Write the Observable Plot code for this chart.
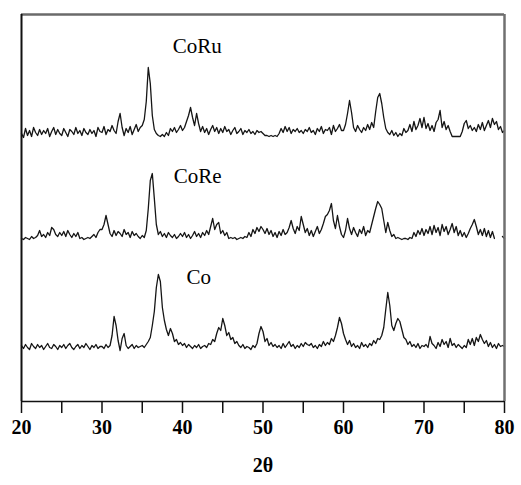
<!DOCTYPE html>
<html>
<head>
<meta charset="utf-8">
<script src="https://cdn.jsdelivr.net/npm/d3@7"></script>
<script src="https://cdn.jsdelivr.net/npm/@observablehq/plot@0.6"></script>
<style>
  html, body { margin: 0; padding: 0; background: #fff; }
</style>
</head>
<body>
<div id="chart"></div>
<script>
// 2θ sampling of the patterns
const twoThetaStart = 20;
const twoThetaStep = 0.25;

// Series names and vertical offsets (stacked patterns, a.u.)
const seriesNames = ["Co", "CoRe", "CoRu"];
const seriesOffsets = [54, 163, 268];

// Intensities (a.u., above each pattern's baseline), 20° → 80° every 0.25°
const coValues = [
  2,-1,3,0,-2,4,1,-1,3,0,2,-2,1,4,0,-1,3,1,-2,2,
  0,3,-1,2,4,0,-2,1,3,-1,2,0,4,1,-2,2,0,3,-1,1,
  1,-1,3,0,2,12,31,22,7,-3,9,14,2,-1,1,3,-1,2,0,1,
  2,0,3,6,10,22,36,60,73,66,40,27,18,12,19,14,6,8,3,5,
  2,4,0,3,1,-1,2,0,3,-1,1,2,0,4,3,8,6,14,20,17,
  29,22,12,15,8,10,4,6,2,0,3,-1,1,0,-2,2,0,4,14,21,
  16,6,9,2,5,1,3,0,2,-1,4,0,3,6,1,3,-1,2,0,4,
  1,5,3,2,4,0,2,-1,3,1,6,2,5,3,9,6,12,20,30,24,
  14,8,3,7,1,4,0,2,-1,5,1,3,0,4,2,7,4,9,8,12,
  20,38,55,42,22,17,24,29,26,18,10,8,3,6,1,3,0,4,-1,2,
  1,3,0,11,4,2,-1,5,1,8,3,6,0,9,2,4,0,3,1,-1,
  2,0,8,3,9,2,10,6,13,8,4,7,1,5,0,3,-1,4,1,2,
  1
];
const coReValues = [
  0,-1,1,0,-1,2,0,1,3,8,2,4,1,6,3,11,9,4,2,6,
  3,7,2,8,4,1,5,2,6,0,1,-1,0,1,0,2,4,1,6,9,
  9,14,23,14,5,2,8,3,7,5,2,9,4,6,1,7,3,5,2,0,
  3,1,8,30,58,65,40,14,4,7,2,5,1,6,3,1,4,0,2,5,
  2,6,1,4,0,3,7,2,5,1,6,3,8,4,12,20,9,14,16,5,
  8,3,6,0,1,0,1,-1,0,1,0,2,1,6,2,9,5,11,7,12,
  9,5,10,4,8,2,6,1,7,3,9,4,6,11,18,10,5,12,8,22,
  14,6,10,3,8,2,7,12,5,9,15,22,24,28,35,18,10,23,12,4,
  1,8,20,10,4,11,6,2,9,5,12,3,8,6,14,22,30,37,34,30,
  18,6,16,8,2,4,0,1,0,-1,0,0,-1,1,0,6,2,8,4,10,
  3,9,5,12,4,13,6,11,3,14,7,12,4,9,15,6,12,3,8,2,
  6,1,5,10,14,19,12,4,9,3,10,2,8,1,7,0,null,null,null,2,
  0
];
const coRuValues = [
  0,-4,5,-2,3,-3,6,1,-2,4,-1,3,0,5,-3,2,6,-1,4,0,
  -2,5,1,-3,4,2,-1,6,0,3,-2,5,1,-1,4,0,3,-3,6,2,
  1,7,-1,4,2,8,3,0,12,20,6,-2,5,1,7,-1,4,9,2,6,
  8,14,32,66,50,18,4,0,-2,-3,-1,-3,1,-2,5,2,6,1,4,8,
  3,6,12,18,26,16,8,20,10,2,7,1,5,-1,4,8,2,6,0,5,
  1,7,2,4,-1,3,6,0,2,5,-1,3,1,4,0,2,-1,3,1,2,
  0,-2,-2,-3,-2,-3,-2,-3,0,5,1,7,2,6,0,4,2,5,1,3,
  0,4,2,6,1,3,-1,5,2,7,0,4,3,6,-1,8,2,5,9,3,
  3,9,20,33,21,6,2,8,4,1,6,3,9,4,11,6,22,36,40,30,
  16,5,1,-1,3,-2,1,-3,0,-2,5,1,3,9,2,12,4,8,15,6,
  16,5,10,3,8,2,11,14,23,6,12,4,8,2,-3,-3,-3,-3,-3,2,
  10,13,5,8,3,6,2,9,4,11,3,8,13,6,15,9,12,4,7,1,
  3
];

// Axis ticks
const xTicks = [20,25,30,35,40,45,50,55,60,65,70,75,80];
const xTickLabels = ["20","","30","","40","","50","","60","","70","","80"];

// Pattern labels
const labelNames = ["CoRu", "CoRe", "Co"];
const labelX = [38.8, 38.9, 40.5];
const labelY = [349, 219, 118];

const allValues = [coValues, coReValues, coRuValues];
const data = [];
allValues.forEach((vals, s) => {
  vals.forEach((v, i) => {
    data.push({
      series: seriesNames[s],
      x: twoThetaStart + i * twoThetaStep,
      y: v == null ? NaN : seriesOffsets[s] + v
    });
  });
});
const labels = labelNames.map((t, i) => ({t, x: labelX[i], y: labelY[i]}));

const serif = "'Liberation Serif', 'Times New Roman', Times, serif";

const chart = Plot.plot({
  width: 521,
  height: 485,
  marginTop: 14,
  marginBottom: 84,
  marginLeft: 21,
  marginRight: 17,
  style: `font-family: ${serif}; background: #fff; color: #000;`,
  x: {domain: [20, 80]},
  y: {domain: [0, 387], axis: null},
  marks: [
    Plot.line(data, {x: "x", y: "y", z: "series", stroke: "#151515", strokeWidth: 1.3}),
    Plot.text(labels, {x: "x", y: "y", text: "t", textAnchor: "start", lineAnchor: "bottom", fontSize: 21, fontFamily: serif, fill: "#000"}),
    Plot.ruleY([387], {stroke: "#6a6a6a", strokeWidth: 2.5}),
    Plot.ruleX([80], {stroke: "#707070", strokeWidth: 2.5}),
    Plot.ruleX([20], {stroke: "#111", strokeWidth: 2}),
    Plot.ruleY([0], {stroke: "#111", strokeWidth: 1.5}),
    Plot.axisX({
      ticks: xTicks,
      tickFormat: (d) => xTickLabels[xTicks.indexOf(d)],
      tickSize: 12,
      tickPadding: 6,
      fontSize: 20,
      fontWeight: "bold",
      fontFamily: serif,
      stroke: "#111",
      strokeWidth: 1.5,
      label: "2θ",
      labelAnchor: "center",
      labelArrow: "none",
      labelOffset: 70
    })
  ]
});
document.getElementById("chart").appendChild(chart);
</script>
</body>
</html>
